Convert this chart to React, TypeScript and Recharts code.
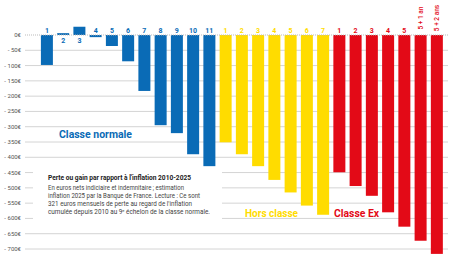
import React from "react";
import { BarChart, Bar, XAxis, YAxis, CartesianGrid, ReferenceLine } from "recharts";

const classeNormaleLabels = ["1", "2", "3", "4", "5", "6", "7", "8", "9", "10", "11"];
const classeNormaleValues = [-98, 6, 27, -7, -36, -86, -183, -295, -321, -390, -429];
const horsClasseLabels = ["1", "2", "3", "4", "5", "6", "7"];
const horsClasseValues = [-351, -390, -429, -474, -515, -558, -588];
const classeExLabels = ["1", "2", "3", "4", "5", "5 + 1 an", "5 + 2 ans"];
const classeExValues = [-449, -494, -526, -580, -627, -673, -716];
const yTicks = [0, -50, -100, -150, -200, -250, -300, -350, -400, -450, -500, -550, -600, -650, -700];

const BLUE = "#0a6bb6";
const YELLOW = "#ffdc00";
const RED = "#e30a17";
const FONT = "Roboto, 'DejaVu Sans', sans-serif";

const groupColor: Record<string, string> = { cn: BLUE, hc: YELLOW, ce: RED };

const data = [
  ...classeNormaleLabels.map((l, i) => ({ id: "cn" + i, label: l, value: classeNormaleValues[i], group: "cn" })),
  ...horsClasseLabels.map((l, i) => ({ id: "hc" + i, label: l, value: horsClasseValues[i], group: "hc" })),
  ...classeExLabels.map((l, i) => ({ id: "ce" + i, label: l, value: classeExValues[i], group: "ce" })),
];

const BarShape = (props: any) => {
  const { x, y, width, height, payload } = props;
  const top = Math.min(y, y + height);
  const h = Math.abs(height);
  const v = payload.value;
  const zeroY = v < 0 ? top : top + h;
  const color = groupColor[payload.group];
  const cx = x + width / 2;
  const long = payload.label.length > 2;
  return (
    <g>
      <rect x={x} y={top} width={width} height={h} fill={color} />
      {long ? (
        <text
          x={cx}
          y={18}
          transform={`rotate(-90 ${cx} 18)`}
          textAnchor="middle"
          dominantBaseline="central"
          fontSize={6.5}
          fontWeight={500}
          fill={color}
          fontFamily={FONT}
        >
          {payload.label}
        </text>
      ) : (
        <text
          x={cx}
          y={v < 0 ? zeroY - 2.5 : zeroY + 8}
          textAnchor="middle"
          fontSize={7}
          fontWeight={700}
          fill={color}
          fontFamily={FONT}
        >
          {payload.label}
        </text>
      )}
    </g>
  );
};

const fmt = (v: number) => (v === 0 ? "0€" : `- ${Math.abs(v)}€`);

const YTick = (props: any) => {
  const { x, y, payload } = props;
  return (
    <text x={x} y={y} dy={2} textAnchor="end" fontSize={6} fill="#555" fontFamily={FONT}>
      {fmt(payload.value)}
    </text>
  );
};

export default function App() {
  const k = 214 / 700;
  const top = 35 - 40 * k;
  const bottom = 260 - (35 + 720 * k);
  return (
    <div style={{ position: "absolute", left: 0, top: 0, width: 450, height: 260, background: "#fff" }}>
      <BarChart
        width={450}
        height={260}
        data={data}
        margin={{ top, right: 2, bottom, left: 0 }}
        barSize={12}
      >
        <CartesianGrid
          vertical={false}
          stroke="#d4d4d4"
          horizontalValues={yTicks.filter((t) => t !== 0)}
        />
        <ReferenceLine y={0} stroke="#bbbbbb" strokeDasharray="1 1" />
        <XAxis dataKey="id" hide padding={{ left: 13.9, right: 2.9 }} />
        <YAxis
          domain={[-720, 40]}
          ticks={yTicks}
          width={25}
          tickSize={0}
          tickMargin={4}
          axisLine={false}
          tickLine={false}
          tick={<YTick />}
          interval={0}
        />
        <Bar dataKey="value" isAnimationActive={false} shape={<BarShape />} />
      </BarChart>
      <svg
        width={450}
        height={260}
        style={{ position: "absolute", left: 0, top: 0, pointerEvents: "none" }}
        fontFamily={FONT}
      >
        <text x={59} y={138} fontSize={11.5} fontWeight={700} fill={BLUE} textLength={73} lengthAdjust="spacingAndGlyphs">
          Classe normale
        </text>
        <text x={245} y={217} fontSize={11.5} fontWeight={700} fill={YELLOW} textLength={53} lengthAdjust="spacingAndGlyphs">
          Hors classe
        </text>
        <text x={334} y={217} fontSize={11.5} fontWeight={700} fill={RED} textLength={45} lengthAdjust="spacingAndGlyphs">
          Classe Ex
        </text>
        <rect x={33} y={167} width={189} height={58} fill="#fff" />
        <text x={48} y={179.5} fontSize={6.3} fontWeight={700} fill="#222" textLength={143} lengthAdjust="spacingAndGlyphs">
          Perte ou gain par rapport à l'inflation 2010-2025
        </text>
        <text x={48} y={189.5} fontSize={6.3} fill="#444" textLength={136} lengthAdjust="spacingAndGlyphs">
          En euros nets indiciaire et indemnitaire ; estimation
        </text>
        <text x={48} y={197.8} fontSize={6.3} fill="#444" textLength={152} lengthAdjust="spacingAndGlyphs">
          inflation 2025 par la Banque de France. Lecture : Ce sont
        </text>
        <text x={48} y={206.1} fontSize={6.3} fill="#444" textLength={144} lengthAdjust="spacingAndGlyphs">
          321 euros mensuels de perte au regard de l'inflation
        </text>
        <text x={48} y={214.4} fontSize={6.3} fill="#444" textLength={162} lengthAdjust="spacingAndGlyphs">
          cumulée depuis 2010 au 9<tspan fontSize={4} dy={-2}>e</tspan>
          <tspan dy={2}> échelon de la classe normale.</tspan>
        </text>
      </svg>
    </div>
  );
}
